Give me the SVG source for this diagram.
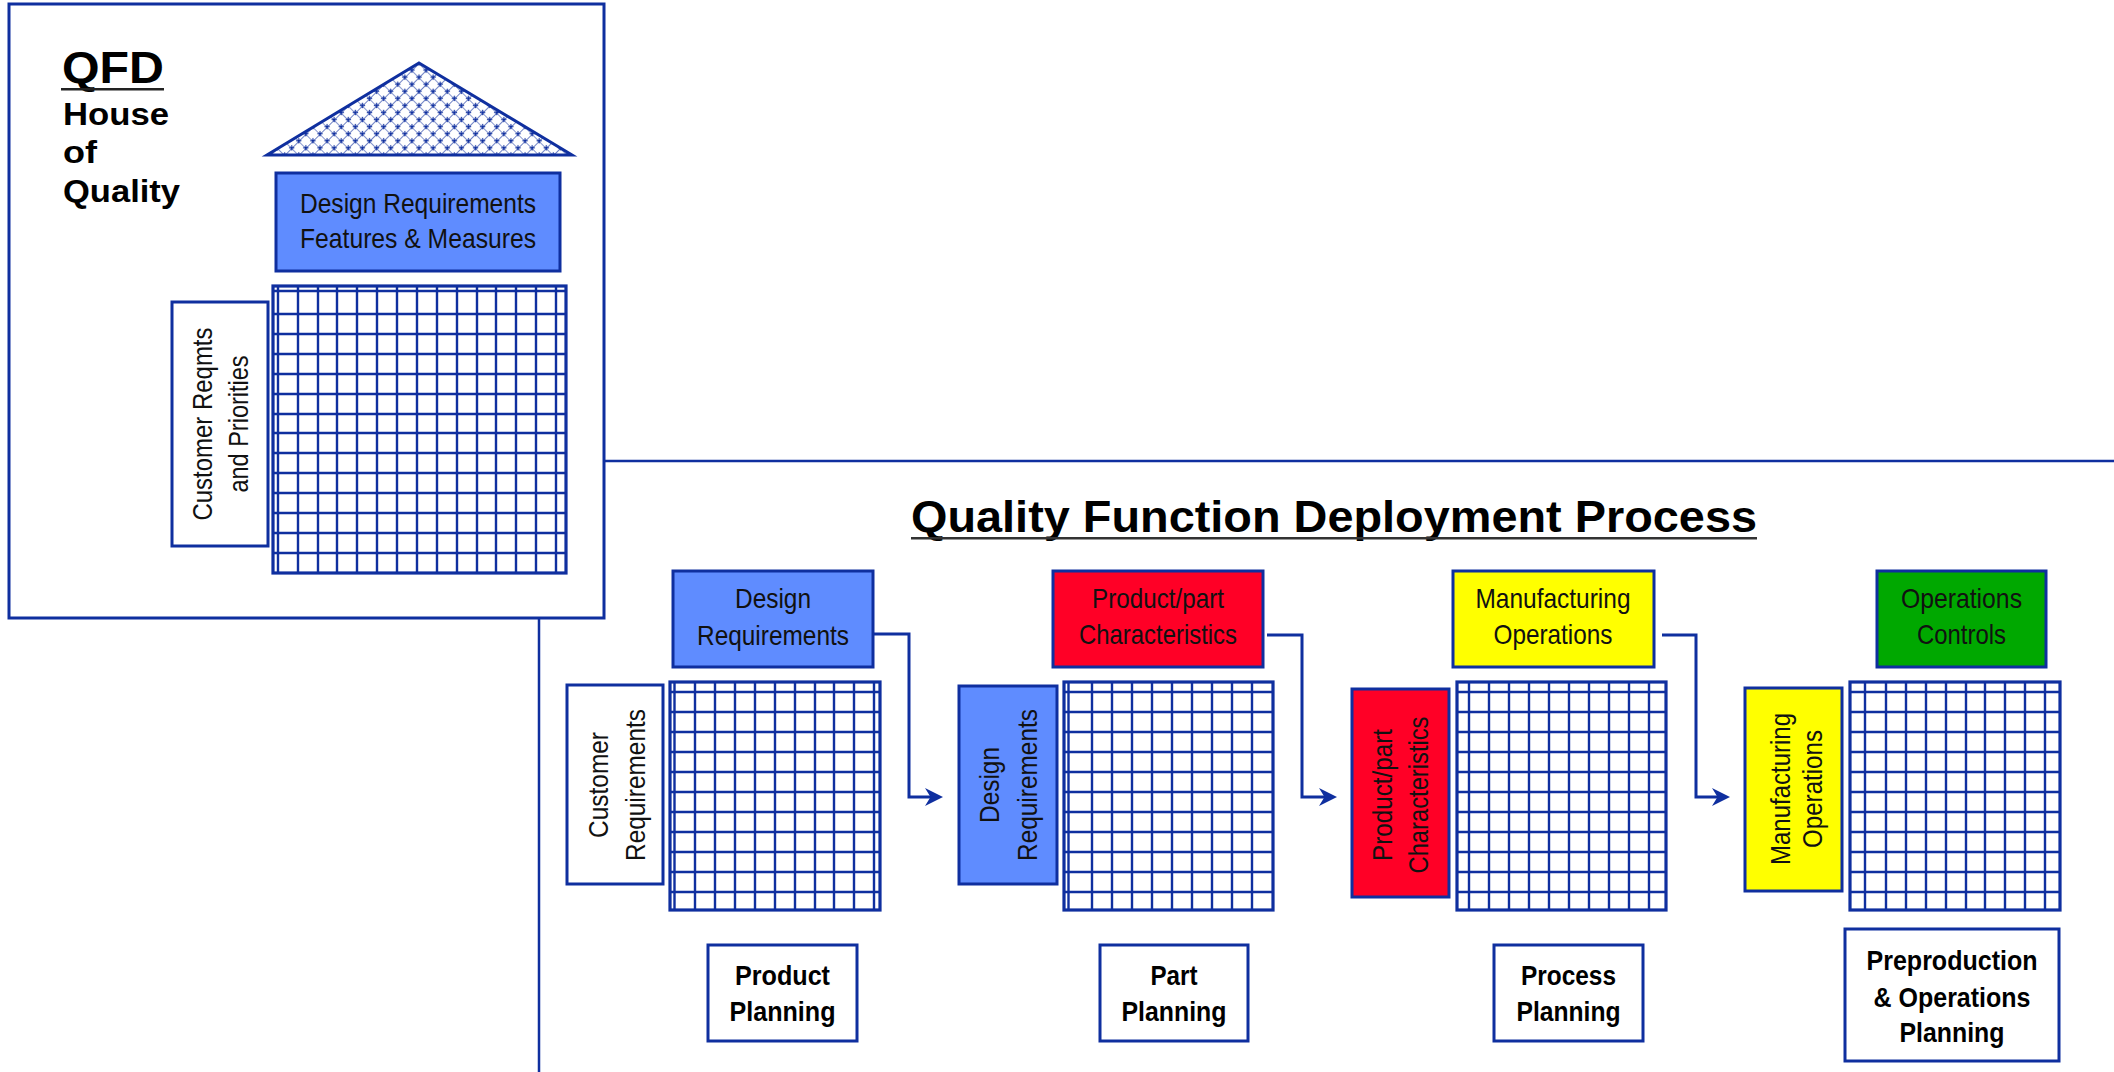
<svg xmlns="http://www.w3.org/2000/svg" width="2114" height="1072" viewBox="0 0 2114 1072">
  <style>
    .frame { fill: none; stroke: #0f2f9f; stroke-width: 3; }
    .rule { fill: none; stroke: #0f2f9f; stroke-width: 2.5; }
    .box { stroke: #0f2f9f; stroke-width: 3; }
    .blue { fill: #5f8cff; }
    .red { fill: #ff0026; }
    .yellow { fill: #ffff00; }
    .green { fill: #00a800; }
    .white { fill: #ffffff; }
    .gridline { fill: none; stroke: #0f2f9f; stroke-width: 2.4; }
    .gridborder { fill: #ffffff; stroke: #0f2f9f; stroke-width: 3.2; }
    .lbl { font-family: "Liberation Sans", Arial, sans-serif; font-size: 28px; fill: #111111; text-anchor: middle; }
    .bold { font-family: "Liberation Sans", Arial, sans-serif; font-weight: bold; fill: #000000; }
    .plan { font-size: 28px; text-anchor: middle; }
    .conn { fill: none; stroke: #0f2f9f; stroke-width: 3; }
  </style>
  <defs>
    <marker id="arrow" markerUnits="userSpaceOnUse" markerWidth="20" markerHeight="20" refX="11" refY="9" orient="auto">
      <path d="M0,0 L18,9 L0,18 L5.5,9 Z" fill="#0f2f9f"/>
    </marker>
    <!-- diamond trellis used for the roof of the house -->
    <pattern id="trellis" width="10" height="10" patternUnits="userSpaceOnUse" patternTransform="translate(419,63) rotate(45)">
      <rect width="10" height="10" fill="#ffffff"/>
      <path d="M0,0H10M0,0V10" stroke="#0f2f9f" stroke-width="1.2"/>
      <path d="M-1.8,-1.8L1.8,1.8M-1.8,1.8L1.8,-1.8M8.2,8.2L11.8,11.8M8.2,11.8L11.8,8.2M8.2,-1.8L11.8,1.8M8.2,1.8L11.8,-1.8M-1.8,8.2L1.8,11.8M-1.8,11.8L1.8,8.2" stroke="#0f2f9f" stroke-width="1.3"/>
    </pattern>
  </defs>

  <rect width="2114" height="1072" fill="#ffffff"/>

  <!-- frame of the process panel -->
  <g id="process-frame">
    <path class="rule" d="M604,461H2114"/>
    <path class="rule" d="M539,618V1072"/>
  </g>

  <!-- House of Quality panel -->
  <g id="hoq-panel">
    <rect class="frame" x="9" y="4" width="595" height="614"/>
    <text class="bold" x="62" y="83" font-size="44" textLength="102" lengthAdjust="spacingAndGlyphs">QFD</text>
    <rect x="61" y="88" width="103" height="2.5" fill="#222222"/>
    <text class="bold" x="63" y="125" font-size="32" textLength="106" lengthAdjust="spacingAndGlyphs">House</text>
    <text class="bold" x="63" y="163" font-size="32" textLength="34" lengthAdjust="spacingAndGlyphs">of</text>
    <text class="bold" x="63" y="202" font-size="32" textLength="117" lengthAdjust="spacingAndGlyphs">Quality</text>
  </g>

  <g id="hoq-roof">
    <path d="M419,63 L572,155 L267,155 Z" fill="url(#trellis)" stroke="#0f2f9f" stroke-width="3" stroke-linejoin="miter"/>
  </g>

  <g id="hoq-design-reqs">
    <rect class="box blue" x="276" y="173" width="284" height="98"/>
    <text class="lbl" x="418" y="213" font-size="29" textLength="236" lengthAdjust="spacingAndGlyphs">Design Requirements</text>
    <text class="lbl" x="418" y="248" font-size="29" textLength="236" lengthAdjust="spacingAndGlyphs">Features &amp; Measures</text>
  </g>

  <g id="hoq-customer-reqs">
    <rect class="box white" x="172" y="302" width="96" height="244"/>
    <text class="lbl" font-size="31" transform="translate(212,424) rotate(-90)" textLength="193" lengthAdjust="spacingAndGlyphs">Customer Reqmts</text>
    <text class="lbl" font-size="31" transform="translate(248,424) rotate(-90)" textLength="137" lengthAdjust="spacingAndGlyphs">and Priorities</text>
  </g>

  <g id="hoq-matrix">
    <rect class="gridborder" x="273" y="286" width="293" height="287"/>
    <path class="gridline" d="M278,286V573M298,286V573M318,286V573M337,286V573M357,286V573M377,286V573M397,286V573M417,286V573M437,286V573M457,286V573M477,286V573M496,286V573M516,286V573M536,286V573M556,286V573"/>
    <path class="gridline" d="M273,291H566M273,314H566M273,334H566M273,354H566M273,374H566M273,394H566M273,414H566M273,433H566M273,453H566M273,473H566M273,493H566M273,513H566M273,533H566M273,553H566"/>
  </g>

  <!-- Title -->
  <g id="title">
    <text class="bold" x="911" y="532" font-size="44" textLength="846" lengthAdjust="spacingAndGlyphs">Quality Function Deployment Process</text>
    <rect x="911" y="537" width="846" height="2.5" fill="#333333"/>
  </g>

  <!-- Stage 1: Product Planning -->
  <g id="stage1-output">
    <rect class="box blue" x="673" y="571" width="200" height="96"/>
    <text class="lbl" x="773" y="608" textLength="76" lengthAdjust="spacingAndGlyphs">Design</text>
    <text class="lbl" x="773" y="645" textLength="152" lengthAdjust="spacingAndGlyphs">Requirements</text>
  </g>
  <g id="stage1-input">
    <rect class="box white" x="567" y="685" width="96" height="199"/>
    <text class="lbl" transform="translate(608,785) rotate(-90)" textLength="106" lengthAdjust="spacingAndGlyphs">Customer</text>
    <text class="lbl" transform="translate(645,785) rotate(-90)" textLength="152" lengthAdjust="spacingAndGlyphs">Requirements</text>
  </g>
  <g id="stage1-matrix">
    <rect class="gridborder" x="670" y="682" width="210" height="228"/>
    <path class="gridline" d="M674.5,682V910M695,682V910M715,682V910M735,682V910M755,682V910M775,682V910M795,682V910M815,682V910M834,682V910M854,682V910M874,682V910"/>
    <path class="gridline" d="M670,692H880M670,712H880M670,732H880M670,752H880M670,772H880M670,792H880M670,812H880M670,832H880M670,852H880M670,872H880M670,892H880"/>
  </g>
  <g id="stage1-label">
    <rect class="box white" x="708" y="945" width="149" height="96"/>
    <text class="bold plan" x="782.5" y="985" textLength="95" lengthAdjust="spacingAndGlyphs">Product</text>
    <text class="bold plan" x="782.5" y="1021" textLength="106" lengthAdjust="spacingAndGlyphs">Planning</text>
  </g>

  <!-- Stage 2: Part Planning -->
  <g id="stage2-output">
    <rect class="box red" x="1053" y="571" width="210" height="96"/>
    <text class="lbl" x="1158" y="608" textLength="132" lengthAdjust="spacingAndGlyphs">Product/part</text>
    <text class="lbl" x="1158" y="644" textLength="158" lengthAdjust="spacingAndGlyphs">Characteristics</text>
  </g>
  <g id="stage2-input">
    <rect class="box blue" x="959" y="686" width="98" height="198"/>
    <text class="lbl" transform="translate(999,785) rotate(-90)" textLength="76" lengthAdjust="spacingAndGlyphs">Design</text>
    <text class="lbl" transform="translate(1037,785) rotate(-90)" textLength="152" lengthAdjust="spacingAndGlyphs">Requirements</text>
  </g>
  <g id="stage2-matrix">
    <rect class="gridborder" x="1064" y="682" width="209" height="228"/>
    <path class="gridline" d="M1068.5,682V910M1092,682V910M1112,682V910M1132,682V910M1152,682V910M1172,682V910M1192,682V910M1212,682V910M1232,682V910M1252,682V910"/>
    <path class="gridline" d="M1064,692H1273M1064,712H1273M1064,732H1273M1064,752H1273M1064,772H1273M1064,792H1273M1064,812H1273M1064,832H1273M1064,852H1273M1064,872H1273M1064,892H1273"/>
  </g>
  <g id="stage2-label">
    <rect class="box white" x="1100" y="945" width="148" height="96"/>
    <text class="bold plan" x="1174" y="985" textLength="47" lengthAdjust="spacingAndGlyphs">Part</text>
    <text class="bold plan" x="1174" y="1021" textLength="105" lengthAdjust="spacingAndGlyphs">Planning</text>
  </g>

  <!-- Stage 3: Process Planning -->
  <g id="stage3-output">
    <rect class="box yellow" x="1453" y="571" width="201" height="96"/>
    <text class="lbl" x="1553" y="608" textLength="155" lengthAdjust="spacingAndGlyphs">Manufacturing</text>
    <text class="lbl" x="1553" y="644" textLength="119" lengthAdjust="spacingAndGlyphs">Operations</text>
  </g>
  <g id="stage3-input">
    <rect class="box red" x="1352" y="689" width="97" height="208"/>
    <text class="lbl" transform="translate(1392,795) rotate(-90)" textLength="132" lengthAdjust="spacingAndGlyphs">Product/part</text>
    <text class="lbl" transform="translate(1428,795) rotate(-90)" textLength="157" lengthAdjust="spacingAndGlyphs">Characteristics</text>
  </g>
  <g id="stage3-matrix">
    <rect class="gridborder" x="1457" y="682" width="209" height="228"/>
    <path class="gridline" d="M1469,682V910M1489,682V910M1509,682V910M1529,682V910M1549,682V910M1569,682V910M1589,682V910M1609,682V910M1629,682V910M1649,682V910"/>
    <path class="gridline" d="M1457,692H1666M1457,712H1666M1457,732H1666M1457,752H1666M1457,772H1666M1457,792H1666M1457,812H1666M1457,832H1666M1457,852H1666M1457,872H1666M1457,892H1666"/>
  </g>
  <g id="stage3-label">
    <rect class="box white" x="1494" y="945" width="149" height="96"/>
    <text class="bold plan" x="1568.5" y="985" textLength="95" lengthAdjust="spacingAndGlyphs">Process</text>
    <text class="bold plan" x="1568.5" y="1021" textLength="104" lengthAdjust="spacingAndGlyphs">Planning</text>
  </g>

  <!-- Stage 4: Preproduction & Operations Planning -->
  <g id="stage4-output">
    <rect class="box green" x="1877" y="571" width="169" height="96"/>
    <text class="lbl" x="1961.5" y="608" textLength="121" lengthAdjust="spacingAndGlyphs">Operations</text>
    <text class="lbl" x="1961.5" y="644" textLength="89" lengthAdjust="spacingAndGlyphs">Controls</text>
  </g>
  <g id="stage4-input">
    <rect class="box yellow" x="1745" y="688" width="97" height="203"/>
    <text class="lbl" transform="translate(1790,789) rotate(-90)" textLength="152" lengthAdjust="spacingAndGlyphs">Manufacturing</text>
    <text class="lbl" transform="translate(1822,789) rotate(-90)" textLength="118" lengthAdjust="spacingAndGlyphs">Operations</text>
  </g>
  <g id="stage4-matrix">
    <rect class="gridborder" x="1850" y="682" width="210" height="228"/>
    <path class="gridline" d="M1865,682V910M1886,682V910M1906,682V910M1926,682V910M1946,682V910M1966,682V910M1985,682V910M2005,682V910M2025,682V910M2045,682V910"/>
    <path class="gridline" d="M1850,692H2060M1850,712H2060M1850,732H2060M1850,752H2060M1850,772H2060M1850,792H2060M1850,812H2060M1850,832H2060M1850,852H2060M1850,872H2060M1850,892H2060"/>
  </g>
  <g id="stage4-label">
    <rect class="box white" x="1845" y="929" width="214" height="132"/>
    <text class="bold plan" x="1952" y="970" textLength="171" lengthAdjust="spacingAndGlyphs">Preproduction</text>
    <text class="bold plan" x="1952" y="1007" textLength="157" lengthAdjust="spacingAndGlyphs">&amp; Operations</text>
    <text class="bold plan" x="1952" y="1042" textLength="105" lengthAdjust="spacingAndGlyphs">Planning</text>
  </g>

  <!-- Connectors: each stage output feeds the next stage input -->
  <g id="connectors">
    <path class="conn" d="M873,634H909V797H936" marker-end="url(#arrow)"/>
    <path class="conn" d="M1267,635H1302V797H1330" marker-end="url(#arrow)"/>
    <path class="conn" d="M1662,635H1696V797H1723" marker-end="url(#arrow)"/>
  </g>
</svg>
